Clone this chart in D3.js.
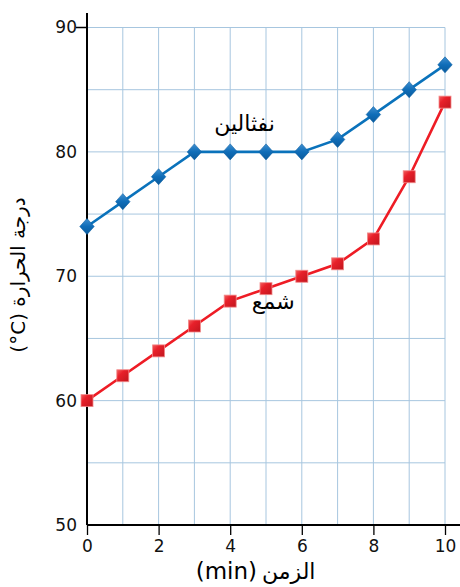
<!DOCTYPE html>
<html>
<head>
<meta charset="utf-8">
<script src="https://cdn.jsdelivr.net/npm/d3@7/dist/d3.min.js"></script>
<style>
  html, body { margin: 0; padding: 0; background: #fff; }
  svg { display: block; }
</style>
</head>
<body>
<svg id="chart" width="460" height="587"></svg>
<script>
// Heating curves: temperature (°C) against time (min)
const times = [0, 1, 2, 3, 4, 5, 6, 7, 8, 9, 10];
const naphthalene = [74, 76, 78, 80, 80, 80, 80, 81, 83, 85, 87];
const wax = [60, 62, 64, 66, 68, 69, 70, 71, 73, 78, 84];
const xTicks = [0, 2, 4, 6, 8, 10];
const yTicks = [50, 60, 70, 80, 90];
const yGrid = [55, 60, 65, 70, 75, 80, 85, 90];
const xGrid = [1, 2, 3, 4, 5, 6, 7, 8, 9, 10];
const seriesNames = ["نفثالين", "شمع"];
const xTitleWord = "الزمن";
const xTitleUnit = "(min)";
const yTitle = "درجة الحرارة (\u200E°C)";

const svg = d3.select("#chart");
const x = d3.scaleLinear().domain([0, 10]).range([87, 445]);
const y = d3.scaleLinear().domain([50, 90]).range([525, 27.5]);

const latin = "'DejaVu Sans', sans-serif";
const arabic = "'DejaVu Sans', sans-serif";

// gradients for the markers
const defs = svg.append("defs");
const gBlue = defs.append("linearGradient").attr("id", "gBlue")
  .attr("x1", 0).attr("y1", 0).attr("x2", 0).attr("y2", 1);
gBlue.append("stop").attr("offset", 0).attr("stop-color", "#3f8fd0");
gBlue.append("stop").attr("offset", 0.5).attr("stop-color", "#0f6db8");
gBlue.append("stop").attr("offset", 1).attr("stop-color", "#0a5a9c");
const gRed = defs.append("linearGradient").attr("id", "gRed")
  .attr("x1", 0).attr("y1", 0).attr("x2", 1).attr("y2", 1);
gRed.append("stop").attr("offset", 0).attr("stop-color", "#f26060");
gRed.append("stop").attr("offset", 0.35).attr("stop-color", "#e8202a");
gRed.append("stop").attr("offset", 1).attr("stop-color", "#c0161e");

// grid
const grid = svg.append("g").attr("stroke", "#a7c6df").attr("stroke-width", 1);
grid.selectAll("line.h").data(yGrid).join("line")
  .attr("x1", x(0)).attr("x2", x(10))
  .attr("y1", d => y(d)).attr("y2", d => y(d));
grid.selectAll("line.v").data(xGrid).join("line")
  .attr("x1", d => x(d)).attr("x2", d => x(d))
  .attr("y1", y(90)).attr("y2", y(50));

// axes
const xAxis = d3.axisBottom(x).tickValues(xTicks).tickSize(10).tickPadding(5).tickFormat(d3.format("d"));
const gx = svg.append("g").attr("transform", `translate(0,${y(50)})`).call(xAxis);
gx.select(".domain").remove();
gx.selectAll(".tick line").attr("stroke", "#000").attr("stroke-width", 1.3);
gx.selectAll(".tick text").attr("font-family", latin).attr("font-size", 17).attr("fill", "#111");
svg.append("line").attr("x1", x(0)).attr("x2", 460).attr("y1", y(50)).attr("y2", y(50))
  .attr("stroke", "#000").attr("stroke-width", 2);

const yAxis = d3.axisLeft(y).tickValues(yTicks).tickSize(0).tickPadding(10).tickFormat(d3.format("d"));
const gy = svg.append("g").attr("transform", `translate(${x(0)},0)`).call(yAxis);
gy.select(".domain").remove();
gy.selectAll(".tick text").attr("font-family", latin).attr("font-size", 17).attr("fill", "#111");
svg.append("line").attr("x1", x(0)).attr("x2", x(0)).attr("y1", 13).attr("y2", y(50))
  .attr("stroke", "#000").attr("stroke-width", 2);
svg.append("line").attr("x1", x(0) - 11).attr("x2", x(0)).attr("y1", y(90)).attr("y2", y(90))
  .attr("stroke", "#000").attr("stroke-width", 1.5);

// series lines
const line = d3.line().x((d, i) => x(times[i])).y(d => y(d));
svg.append("path").datum(naphthalene).attr("d", line)
  .attr("fill", "none").attr("stroke", "#0a72bb").attr("stroke-width", 2.6);
svg.append("path").datum(wax).attr("d", line)
  .attr("fill", "none").attr("stroke", "#ee1c25").attr("stroke-width", 2.6);

// markers
svg.append("g").selectAll("path").data(naphthalene).join("path")
  .attr("transform", (d, i) => `translate(${x(times[i])},${y(d)})`)
  .attr("d", "M0,-8L7.2,0L0,8L-7.2,0Z")
  .attr("fill", "url(#gBlue)").attr("stroke", "#0b5fa3").attr("stroke-width", 0.6);
svg.append("g").selectAll("rect").data(wax).join("rect")
  .attr("x", (d, i) => x(times[i]) - 6).attr("y", d => y(d) - 6)
  .attr("width", 12).attr("height", 12)
  .attr("fill", "url(#gRed)").attr("stroke", "#f28a8a").attr("stroke-width", 0.8);

// series labels
svg.append("text").attr("x", x(4.4)).attr("y", y(81.7))
  .attr("text-anchor", "middle").attr("font-family", arabic).attr("font-size", 22)
  .attr("fill", "#000").attr("direction", "rtl").text(seriesNames[0]);
svg.append("text").attr("x", x(5.2)).attr("y", y(67.4))
  .attr("text-anchor", "middle").attr("font-family", arabic).attr("font-size", 22)
  .attr("fill", "#000").attr("direction", "rtl").text(seriesNames[1]);

// axis titles
svg.append("text").attr("x", 262).attr("y", 579)
  .attr("text-anchor", "start").attr("font-family", arabic).attr("font-size", 22)
  .attr("fill", "#000").text(xTitleWord);
svg.append("text").attr("x", 257).attr("y", 579)
  .attr("text-anchor", "end").attr("font-family", latin).attr("font-size", 23)
  .attr("fill", "#000").text(xTitleUnit);
svg.append("text").attr("transform", "translate(25,275) rotate(-90)")
  .attr("text-anchor", "middle").attr("font-family", latin).attr("font-size", 20)
  .attr("fill", "#000").attr("direction", "rtl").text(yTitle);
</script>
</body>
</html>
